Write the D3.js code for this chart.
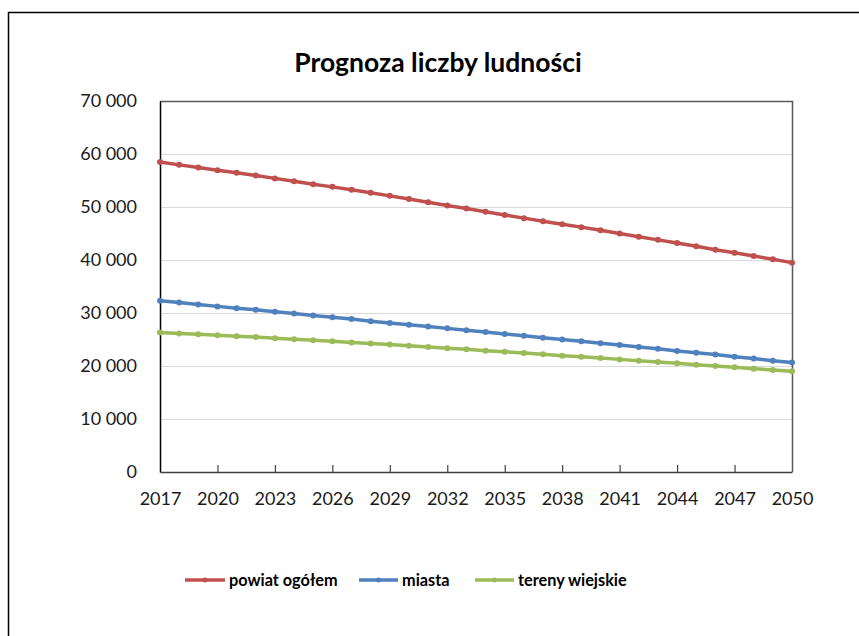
<!DOCTYPE html>
<html>
<head>
<meta charset="utf-8">
<script src="https://cdn.jsdelivr.net/npm/d3@7"></script>
<style>
  html, body { margin: 0; padding: 0; background: #fff; }
  svg { display: block; }
</style>
</head>
<body>
<svg id="chart" width="859" height="636"></svg>
<script>
// Population forecast, 2017–2050
const title = "Prognoza liczby ludności";
const years = d3.range(2017, 2051);
const seriesNames = ["powiat ogółem", "miasta", "tereny wiejskie"];
const seriesColors = ["#C0504D", "#4F81BD", "#9BBB59"];

const powiatOgolem = [
  58500, 57950, 57450, 56950, 56450, 55950, 55400, 54850, 54300, 53800,
  53250, 52700, 52100, 51500, 50900, 50300, 49700, 49100, 48500, 47900,
  47300, 46750, 46200, 45600, 45000, 44400, 43800, 43200, 42600, 41950,
  41350, 40750, 40150, 39500
];
const miasta = [
  32300, 32000, 31600, 31250, 30900, 30600, 30250, 29900, 29550, 29200,
  28850, 28450, 28100, 27800, 27450, 27100, 26750, 26400, 26050, 25700,
  25350, 25000, 24650, 24300, 23950, 23600, 23250, 22850, 22500, 22150,
  21750, 21400, 21000, 20650
];
const terenyWiejskie = [
  26300, 26150, 26000, 25800, 25600, 25450, 25250, 25050, 24850, 24650,
  24450, 24250, 24050, 23800, 23600, 23350, 23150, 22900, 22700, 22450,
  22200, 21950, 21750, 21500, 21250, 21000, 20750, 20500, 20250, 20000,
  19750, 19500, 19250, 19000
];
const yTicks = [0, 10000, 20000, 30000, 40000, 50000, 60000, 70000];
const xTickYears = d3.range(2017, 2051, 3);

const seriesValues = [powiatOgolem, miasta, terenyWiejskie];

const svg = d3.select("#chart");
const font = "Lato, 'Open Sans', 'DejaVu Sans', sans-serif";

// outer chart frame
svg.append("rect")
  .attr("x", 8.5).attr("y", 12.5)
  .attr("width", 870).attr("height", 660)
  .attr("fill", "#fff")
  .attr("stroke", "#000").attr("stroke-width", 1.5);

const plot = { left: 160, right: 792, top: 101, bottom: 472 };

const x = d3.scaleLinear().domain([2017, 2050]).range([plot.left, plot.right]);
const y = d3.scaleLinear().domain([0, 70000]).range([plot.bottom, plot.top]);

// title
svg.append("text")
  .attr("x", 438).attr("y", 72)
  .attr("text-anchor", "middle")
  .attr("font-family", font)
  .attr("font-weight", "bold")
  .attr("font-size", 26.5)
  .attr("fill", "#000")
  .text(title);

// horizontal gridlines
svg.append("g")
  .selectAll("line")
  .data(yTicks.filter(d => d > 0))
  .join("line")
  .attr("x1", plot.left).attr("x2", plot.right)
  .attr("y1", d => Math.round(y(d)) + 0.5).attr("y2", d => Math.round(y(d)) + 0.5)
  .attr("stroke", "#d9d9d9").attr("stroke-width", 1);

// plot area border (top and right)
svg.append("path")
  .attr("d", `M${plot.left},${plot.top + 0.5}H${plot.right + 0.5}V${plot.bottom}`)
  .attr("fill", "none")
  .attr("stroke", "#595959").attr("stroke-width", 1.5);

// y axis
const yAxis = d3.axisLeft(y)
  .tickValues(yTicks)
  .tickSize(0)
  .tickPadding(23)
  .tickFormat(d => d === 0 ? "0" : d3.format(",")(d).replace(/,/g, " "));
const gy = svg.append("g")
  .attr("transform", `translate(${plot.left},0)`)
  .call(yAxis);
gy.select(".domain").attr("stroke", "#000").attr("stroke-width", 1.5);
gy.selectAll("text")
  .attr("font-family", font)
  .attr("font-size", 18)
  .attr("fill", "#1a1a1a");

// x axis, ticks pointing into the plot
const xAxis = d3.axisBottom(x)
  .tickValues(xTickYears)
  .tickSize(0)
  .tickPadding(20)
  .tickFormat(d3.format("d"));
const gx = svg.append("g")
  .attr("transform", `translate(0,${plot.bottom})`)
  .call(xAxis);
gx.select(".domain").attr("stroke", "#404040").attr("stroke-width", 1.5);
gx.selectAll("text")
  .attr("font-family", font)
  .attr("font-size", 18)
  .attr("fill", "#1a1a1a");
gx.selectAll(".tick")
  .filter(d => d !== 2017 && d !== 2050)
  .append("line")
  .attr("y1", 0).attr("y2", -7)
  .attr("stroke", "#404040").attr("stroke-width", 1.2);

// series lines with small round markers
const line = d3.line()
  .x((d, i) => x(years[i]))
  .y(d => y(d));

seriesValues.forEach((vals, si) => {
  const g = svg.append("g");
  g.append("path")
    .datum(vals)
    .attr("d", line)
    .attr("fill", "none")
    .attr("stroke", seriesColors[si])
    .attr("stroke-width", 3.5)
    .attr("stroke-linejoin", "round")
    .attr("stroke-linecap", "round");
  g.selectAll("circle")
    .data(vals)
    .join("circle")
    .attr("cx", (d, i) => x(years[i]))
    .attr("cy", d => y(d))
    .attr("r", 3)
    .attr("fill", seriesColors[si]);
});

// legend
const legendItems = [
  { x: 185, textX: 229 },
  { x: 359, textX: 402 },
  { x: 475, textX: 518 }
];
const legendY = 580;
const lg = svg.append("g");
seriesNames.forEach((name, i) => {
  const it = legendItems[i];
  lg.append("line")
    .attr("x1", it.x).attr("x2", it.textX - 4)
    .attr("y1", legendY).attr("y2", legendY)
    .attr("stroke", seriesColors[i]).attr("stroke-width", 3.5);
  lg.append("circle")
    .attr("cx", (it.x + it.textX - 4) / 2).attr("cy", legendY)
    .attr("r", 2.5).attr("fill", seriesColors[i]);
  lg.append("text")
    .attr("x", it.textX).attr("y", legendY + 6)
    .attr("font-family", font)
    .attr("font-weight", "bold")
    .attr("font-size", 16.3)
    .attr("fill", "#000")
    .text(name);
});
</script>
</body>
</html>
